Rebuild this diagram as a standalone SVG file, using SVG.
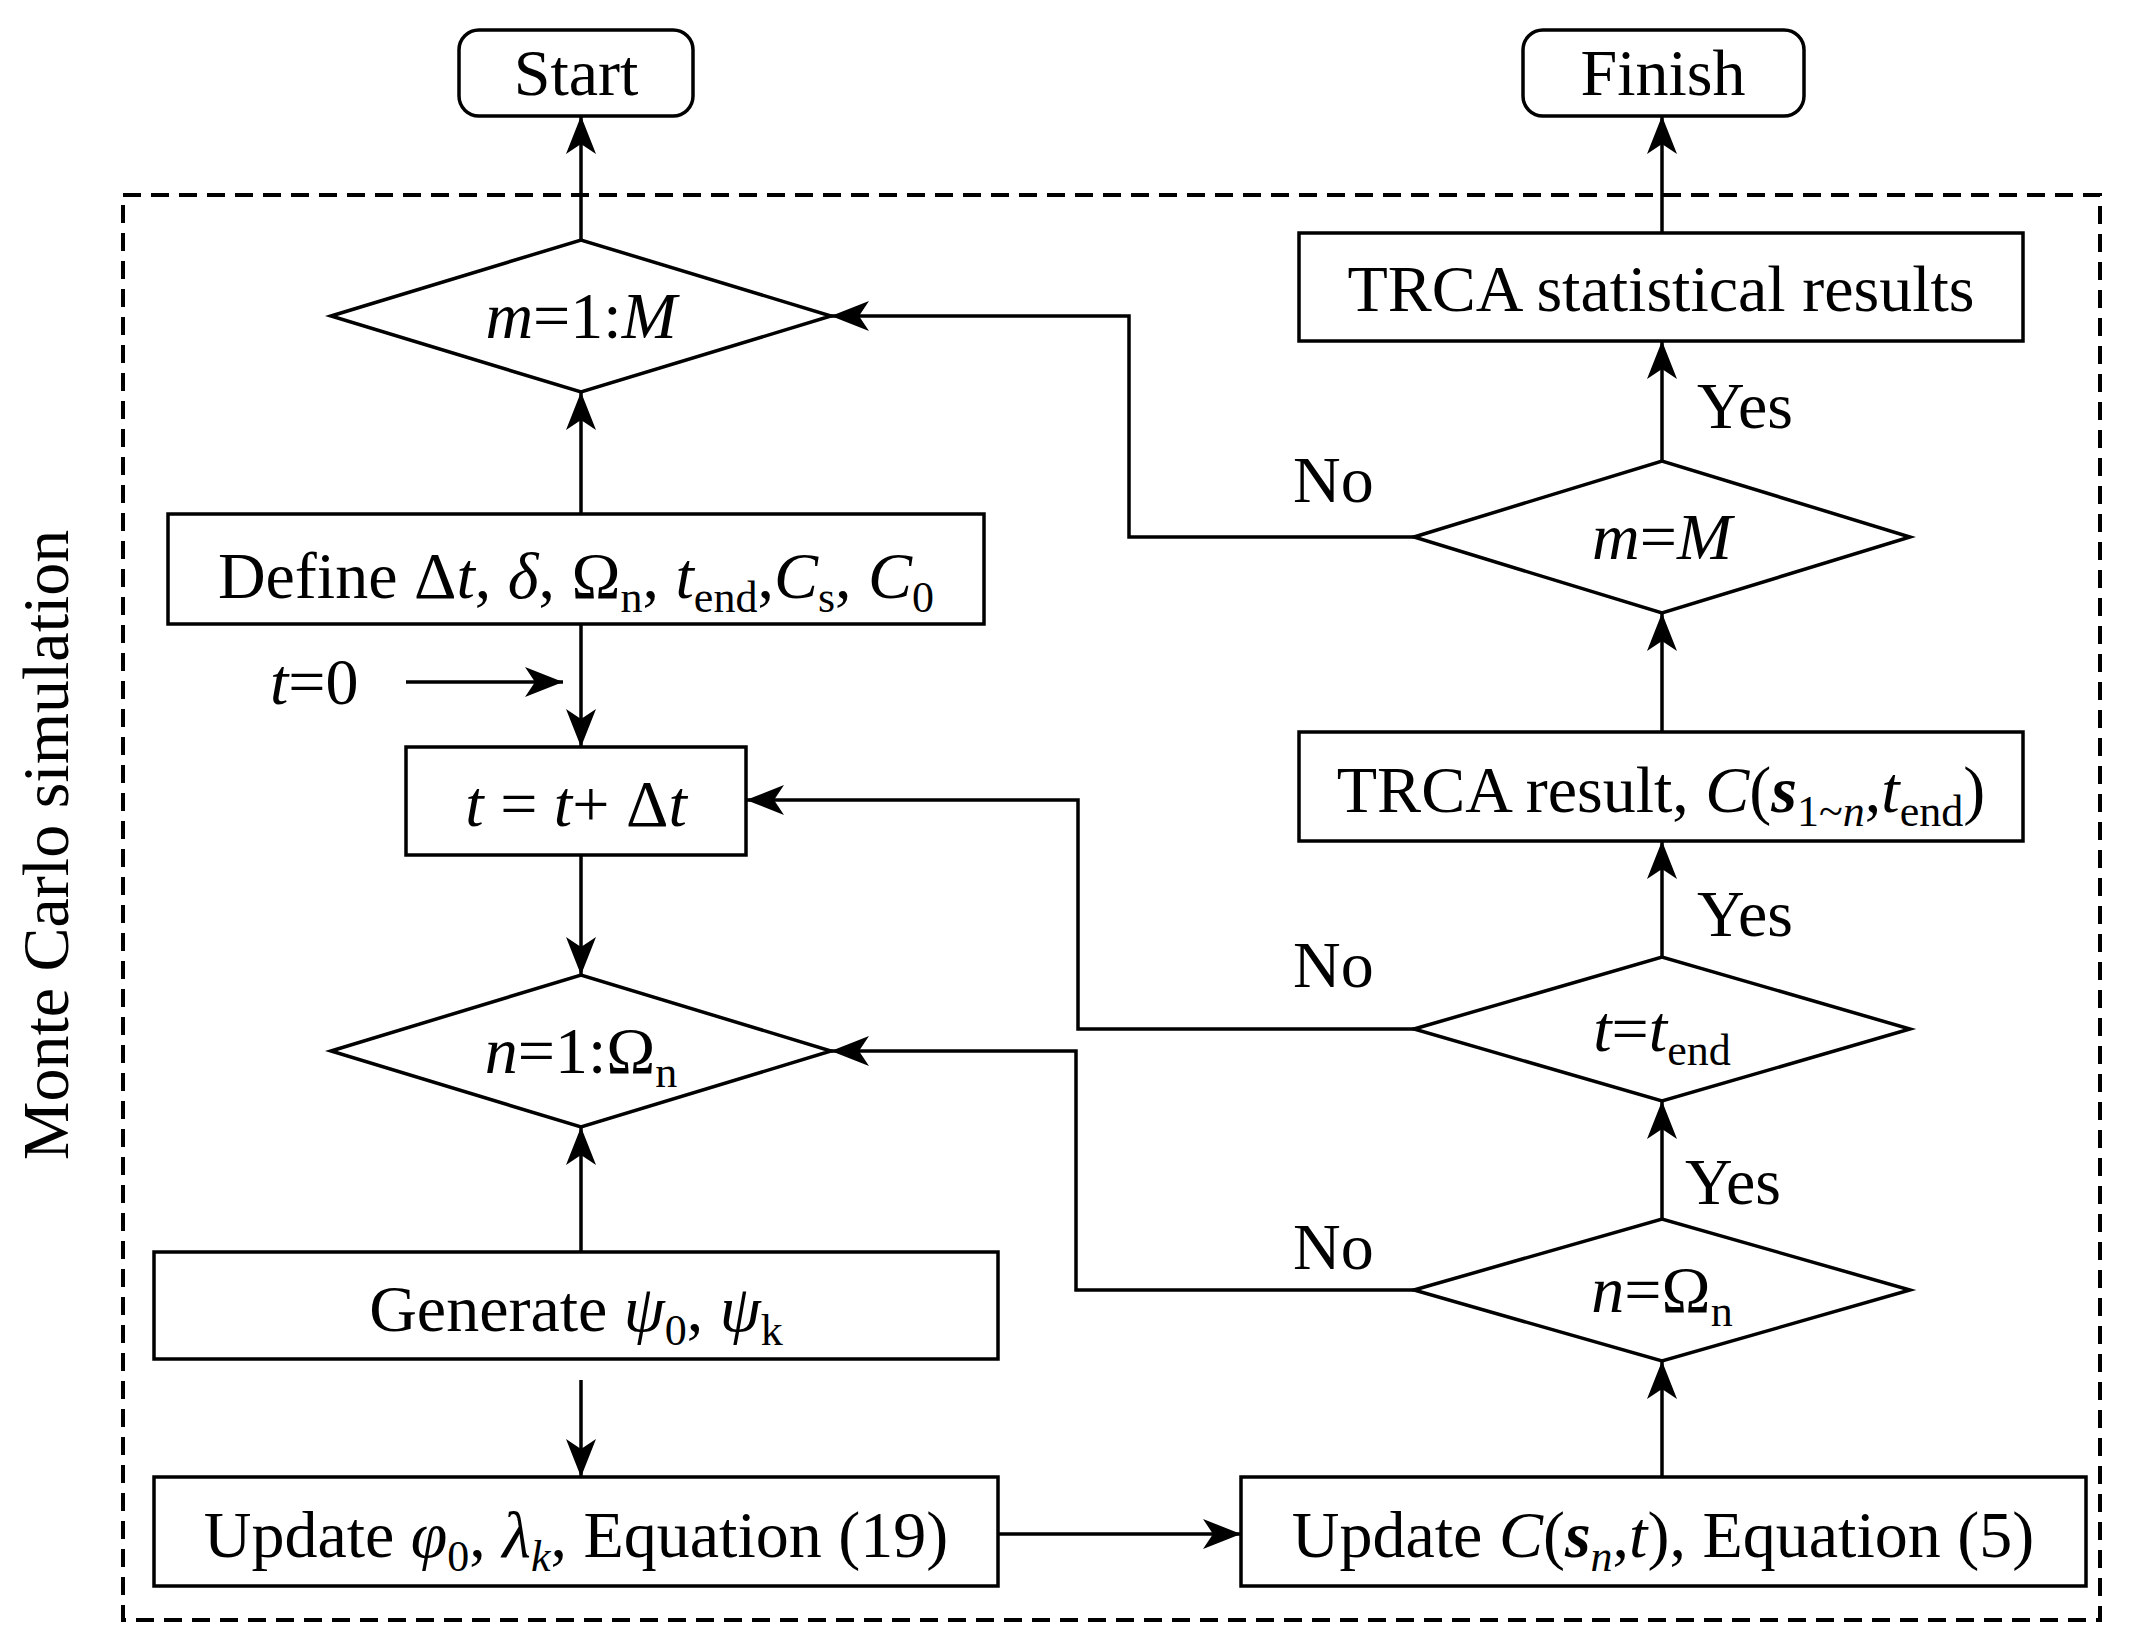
<svg xmlns="http://www.w3.org/2000/svg" width="2138" height="1640" viewBox="0 0 2138 1640">
<style>
.s{fill:#fff;stroke:#000;stroke-width:3.5}
.c{fill:none;stroke:#000;stroke-width:3.5;marker-end:url(#a)}
text{font-family:"Liberation Serif",serif;font-size:66px;fill:#000}
.m{text-anchor:middle}
.sub{font-size:44px}
</style>
<defs><marker id="a" markerUnits="userSpaceOnUse" markerWidth="40" markerHeight="30" viewBox="0 0 40 30" refX="38" refY="15" orient="auto"><path d="M0,0 L38,15 L0,30 L10,15 Z" fill="#000"/></marker></defs>
<rect x="123" y="195" width="1977" height="1425" fill="none" stroke="#000" stroke-width="4" stroke-dasharray="18,10"/>
<text transform="translate(68,845) rotate(-90)" class="m">Monte Carlo simulation</text>
<g id="start"><rect class="s" x="459" y="30" width="234" height="86" rx="20"/><text class="m" x="576" y="95">Start</text></g>
<g id="finish"><rect class="s" x="1523" y="30" width="281" height="86" rx="20"/><text class="m" x="1663" y="95">Finish</text></g>
<g id="d1"><polygon class="s" points="331,316 581,240 831,316 581,392"/><text class="m" x="581" y="338"><tspan font-style="italic">m</tspan>=1:<tspan font-style="italic">M</tspan></text></g>
<g id="define"><rect class="s" x="168" y="514" width="816" height="110"/><text class="m" x="576" y="598">Define Δ<tspan font-style="italic">t</tspan>, <tspan font-style="italic">δ</tspan>, Ω<tspan class="sub" dy="14">n</tspan><tspan dy="-14">, </tspan><tspan font-style="italic">t</tspan><tspan class="sub" dy="14">end</tspan><tspan dy="-14">,</tspan><tspan font-style="italic">C</tspan><tspan class="sub" dy="14">s</tspan><tspan dy="-14">, </tspan><tspan font-style="italic">C</tspan><tspan class="sub" dy="14">0</tspan></text></g>
<text x="270" y="704"><tspan font-style="italic">t</tspan>=0</text>
<g id="tbox"><rect class="s" x="406" y="747" width="340" height="108"/><text class="m" x="576" y="826"><tspan font-style="italic">t</tspan> = <tspan font-style="italic">t</tspan>+ Δ<tspan font-style="italic">t</tspan></text></g>
<g id="d2"><polygon class="s" points="331,1051 581,975 831,1051 581,1127"/><text class="m" x="581" y="1073"><tspan font-style="italic">n</tspan>=1:Ω<tspan class="sub" dy="14">n</tspan></text></g>
<g id="gen"><rect class="s" x="154" y="1252" width="844" height="107"/><text class="m" x="576" y="1331">Generate  <tspan font-style="italic">ψ</tspan><tspan class="sub" dy="14">0</tspan><tspan dy="-14">, </tspan><tspan font-style="italic">ψ</tspan><tspan class="sub" dy="14">k</tspan></text></g>
<g id="upd1"><rect class="s" x="154" y="1477" width="844" height="109"/><text class="m" x="576" y="1557">Update <tspan font-style="italic">φ</tspan><tspan class="sub" dy="14">0</tspan><tspan dy="-14">, </tspan><tspan font-style="italic">λ</tspan><tspan class="sub" dy="14" font-style="italic">k</tspan><tspan dy="-14">, Equation (19)</tspan></text></g>
<g id="upd2"><rect class="s" x="1241" y="1477" width="845" height="109"/><text class="m" x="1663" y="1557">Update <tspan font-style="italic">C</tspan>(<tspan font-style="italic" font-weight="bold">s</tspan><tspan class="sub" dy="14" font-style="italic">n</tspan><tspan dy="-14">,</tspan><tspan font-style="italic">t</tspan>), Equation (5)</text></g>
<g id="d3"><polygon class="s" points="1414,1290 1662,1219 1910,1290 1662,1361"/><text class="m" x="1662" y="1312"><tspan font-style="italic">n</tspan>=Ω<tspan class="sub" dy="14">n</tspan></text></g>
<g id="d4"><polygon class="s" points="1414,1029 1662,957 1910,1029 1662,1101"/><text class="m" x="1662" y="1051"><tspan font-style="italic">t</tspan>=<tspan font-style="italic">t</tspan><tspan class="sub" dy="14">end</tspan></text></g>
<g id="res"><rect class="s" x="1299" y="732" width="724" height="109"/><text class="m" x="1661" y="812">TRCA result, <tspan font-style="italic">C</tspan>(<tspan font-style="italic" font-weight="bold">s</tspan><tspan class="sub" dy="14">1~<tspan font-style="italic">n</tspan></tspan><tspan dy="-14">,</tspan><tspan font-style="italic">t</tspan><tspan class="sub" dy="14">end</tspan><tspan dy="-14">)</tspan></text></g>
<g id="d5"><polygon class="s" points="1414,537 1662,461 1910,537 1662,613"/><text class="m" x="1662" y="559"><tspan font-style="italic">m</tspan>=<tspan font-style="italic">M</tspan></text></g>
<g id="stat"><rect class="s" x="1299" y="233" width="724" height="108"/><text class="m" x="1661" y="311">TRCA statistical results</text></g>
<text x="1697" y="428">Yes</text><text x="1697" y="936">Yes</text><text x="1685" y="1204">Yes</text>
<text x="1293" y="502">No</text><text x="1293" y="987">No</text><text x="1293" y="1269">No</text>
<g id="connectors">
<path class="c" d="M581,240 V116"/>
<path class="c" d="M581,514 V392"/>
<path class="c" d="M581,624 V747"/>
<path class="c" d="M406,682 H563"/>
<path class="c" d="M581,855 V975"/>
<path class="c" d="M581,1252 V1127"/>
<path class="c" d="M581,1380 V1477"/>
<path class="c" d="M998,1534 H1241"/>
<path class="c" d="M1662,1477 V1361"/>
<path class="c" d="M1662,1219 V1101"/>
<path class="c" d="M1662,957 V841"/>
<path class="c" d="M1662,732 V613"/>
<path class="c" d="M1662,461 V341"/>
<path class="c" d="M1662,233 V116"/>
<path class="c" d="M1414,537 H1129 V316 H831"/>
<path class="c" d="M1414,1029 H1078 V800 H746"/>
<path class="c" d="M1414,1290 H1076 V1051 H831"/>
</g>
</svg>
